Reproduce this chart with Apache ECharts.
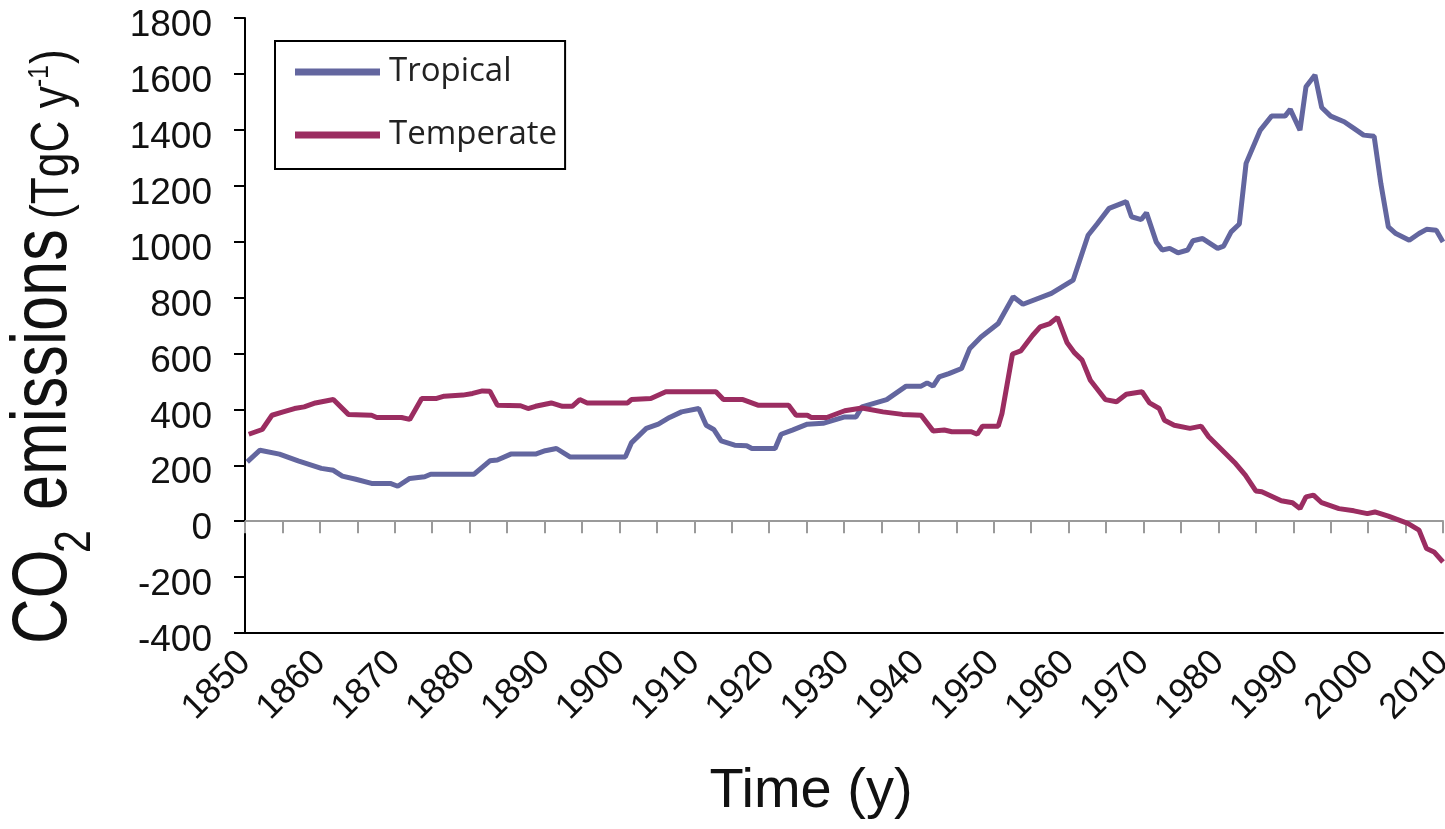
<!DOCTYPE html>
<html>
<head>
<meta charset="utf-8">
<script src="https://cdn.jsdelivr.net/npm/echarts@6/dist/echarts.min.js"></script>
<style>
html,body{margin:0;padding:0;background:#fff;}
#chart{width:1445px;height:829px;}
</style>
</head>
<body>
<div id="chart"></div>
<script>
// ---- data ----
var tropicalYears = [1850.3,1852,1854.6,1857.1,1860.2,1861.8,1863,1864.8,1866.9,1869.4,1870.4,1872,1874,1874.8,1880.6,1882.7,1883.7,1885.5,1888.8,1890.1,1891.6,1893.4,1900.8,1901.6,1903.6,1905.2,1906.7,1908.3,1910.6,1911.6,1912.6,1913.6,1915.4,1917,1917.7,1920.8,1921.6,1923.1,1925.1,1927.2,1930.1,1931.6,1932.4,1935.7,1938.3,1940.3,1941.1,1941.9,1942.7,1944,1945.7,1946.8,1948.3,1950.6,1952.6,1953.9,1957.7,1960.6,1962.6,1963.8,1965.4,1967.7,1968.4,1969.7,1970.4,1971.7,1972.5,1973.5,1974.6,1975.9,1976.6,1977.9,1979.9,1980.7,1981.7,1982.8,1983.7,1985.6,1987.1,1988.9,1989.6,1990.9,1991.7,1992.9,1993.8,1995,1996.8,1998.1,1999.4,2000.8,2001.7,2002.7,2003.7,2005.5,2006.8,2007.8,2009.1,2010];
var tropicalValues = [212,254,240,216,189,182,161,150,135,135,125,153,159,168,168,216,219,240,240,252,260,230,230,280,332,347,371,391,403,343,328,287,272,270,260,260,311,326,347,350,373,373,409,435,483,483,495,483,516,528,546,618,659,707,803,776,815,862,1023,1063,1119,1143,1089,1079,1103,999,970,976,960,970,1003,1011,976,984,1035,1063,1280,1399,1449,1449,1473,1399,1554,1596,1480,1449,1429,1405,1381,1377,1208,1053,1029,1005,1029,1044,1041,999];
var temperateYears = [1850.5,1852.3,1853.6,1855.1,1856.6,1857.9,1859.4,1861.8,1863.8,1866.9,1867.6,1870.9,1872,1873.6,1875.6,1876.6,1879.1,1880.4,1881.7,1882.7,1883.7,1886.8,1887.8,1888.8,1890.9,1892.4,1893.7,1894.7,1895.7,1901.1,1901.6,1904.2,1906.2,1912.9,1913.9,1916.5,1918.5,1922.6,1923.6,1925.1,1925.6,1927.7,1930.1,1932.4,1935.2,1937.8,1940.3,1941.9,1943.4,1944.4,1947,1947.8,1948.5,1950.6,1951.1,1952.5,1953.6,1955.2,1956.2,1957.5,1958.5,1959.8,1960.8,1961.8,1962.9,1964.9,1966.4,1967.7,1969.8,1970.8,1972.1,1972.8,1974.1,1976.2,1977.7,1978.7,1982.3,1983.6,1985,1985.8,1988.4,1989.9,1990.9,1991.7,1992.7,1993.8,1996.1,1998.1,1999.9,2000.9,2002.7,2005.3,2006.8,2007.8,2008.8,2010];
var temperateValues = [311,328,379,391,403,409,423,435,382,379,371,371,364,439,439,447,451,457,466,465,415,413,403,411,423,411,411,435,423,423,435,439,463,463,435,435,415,415,379,379,371,371,395,405,391,382,379,323,326,320,320,311,340,340,385,598,609,665,695,707,729,638,602,576,504,435,427,454,463,423,403,361,343,332,340,302,206,165,108,105,73,66,45,87,93,66,45,37,27,33,18,-8,-32,-98,-110,-146];
var seriesNames = ['Tropical', 'Temperate'];
var yTitleParts = ['CO', '2', 'emissions', '(TgC y', '-1', ')'];
var xTitle = 'Time (y)';

function pairs(xs, ys) { return xs.map(function (x, i) { return [x, ys[i]]; }); }

var SANS = '"Liberation Sans", Arial, sans-serif';

function rotText(txt, x, y, size) {
  return {
    type: 'text', x: x, y: y, rotation: Math.PI / 2, scaleX: 0.82, scaleY: 1, silent: true,
    style: { text: txt, fontSize: size, fontFamily: SANS, fill: '#111',
             align: 'left', verticalAlign: 'middle', textAlign: 'left', textVerticalAlign: 'middle' }
  };
}

var chart = echarts.init(document.getElementById('chart'), null, { renderer: 'canvas' });
chart.setOption({
  animation: false,
  backgroundColor: '#fff',
  grid: { left: 245, right: 2, top: 18, bottom: 196, containLabel: false, outerBoundsMode: 'none' },
  legend: {
    data: seriesNames,
    orient: 'vertical',
    left: 275, top: 41,
    padding: [12, 8, 15, 20],
    icon: 'rect',
    itemWidth: 85, itemHeight: 7, itemGap: 25,
    borderColor: '#000', borderWidth: 2,
    textStyle: { fontFamily: '"Open Sans", sans-serif', fontSize: 33, lineHeight: 38, color: '#222', padding: [0, 0, 0, 4] }
  },
  xAxis: [
    {
      type: 'value', min: 1850, max: 2010, interval: 5,
      axisLine: { show: true, onZero: true, lineStyle: { color: '#9a9a9a', width: 2 } },
      axisTick: { show: true, length: 12, lineStyle: { color: '#9a9a9a', width: 2 } },
      axisLabel: { show: false },
      splitLine: { show: false }
    },
    {
      type: 'value', min: 1850, max: 2010, interval: 10, position: 'bottom',
      axisLine: { show: true, onZero: false, lineStyle: { color: '#000', width: 2 } },
      axisTick: { show: false },
      axisLabel: { show: true, rotate: 45, margin: 24, fontFamily: SANS, fontSize: 36, color: '#111',
                   hideOverlap: false, formatter: function (v) { return String(v); } },
      splitLine: { show: false }
    }
  ],
  yAxis: {
    type: 'value', min: -400, max: 1800, interval: 200,
    axisLine: { show: true, lineStyle: { color: '#000', width: 2 } },
    axisTick: { show: true, length: 11, lineStyle: { color: '#000', width: 2 } },
    axisLabel: { margin: 33, fontFamily: SANS, fontSize: 37, color: '#111', verticalAlign: 'top', lineHeight: 16,
                 formatter: function (v) { return String(v); } },
    splitLine: { show: false }
  },
  series: [
    {
      name: seriesNames[0], type: 'line', xAxisIndex: 0, showSymbol: false, symbol: 'none',
      data: pairs(tropicalYears, tropicalValues),
      lineStyle: { color: '#63669f', width: 5 }, itemStyle: { color: '#63669f' }
    },
    {
      name: seriesNames[1], type: 'line', xAxisIndex: 0, showSymbol: false, symbol: 'none',
      data: pairs(temperateYears, temperateValues),
      lineStyle: { color: '#9b2d61', width: 5 }, itemStyle: { color: '#9b2d61' }
    }
  ],
  graphic: [
    rotText(yTitleParts[0], 45, 644, 77),
    rotText(yTitleParts[1], 76, 553, 50),
    rotText(yTitleParts[2], 45, 510, 77),
    rotText(yTitleParts[3], 53, 219, 54),
    rotText(yTitleParts[4], 40, 87, 30),
    rotText(yTitleParts[5], 53, 64, 54),
    {
      type: 'text', x: 811, y: 792, silent: true,
      style: { text: xTitle, fontSize: 56, fontFamily: SANS, fill: '#111',
               align: 'center', verticalAlign: 'middle', textAlign: 'center', textVerticalAlign: 'middle' }
    }
  ]
});
</script>
</body>
</html>
